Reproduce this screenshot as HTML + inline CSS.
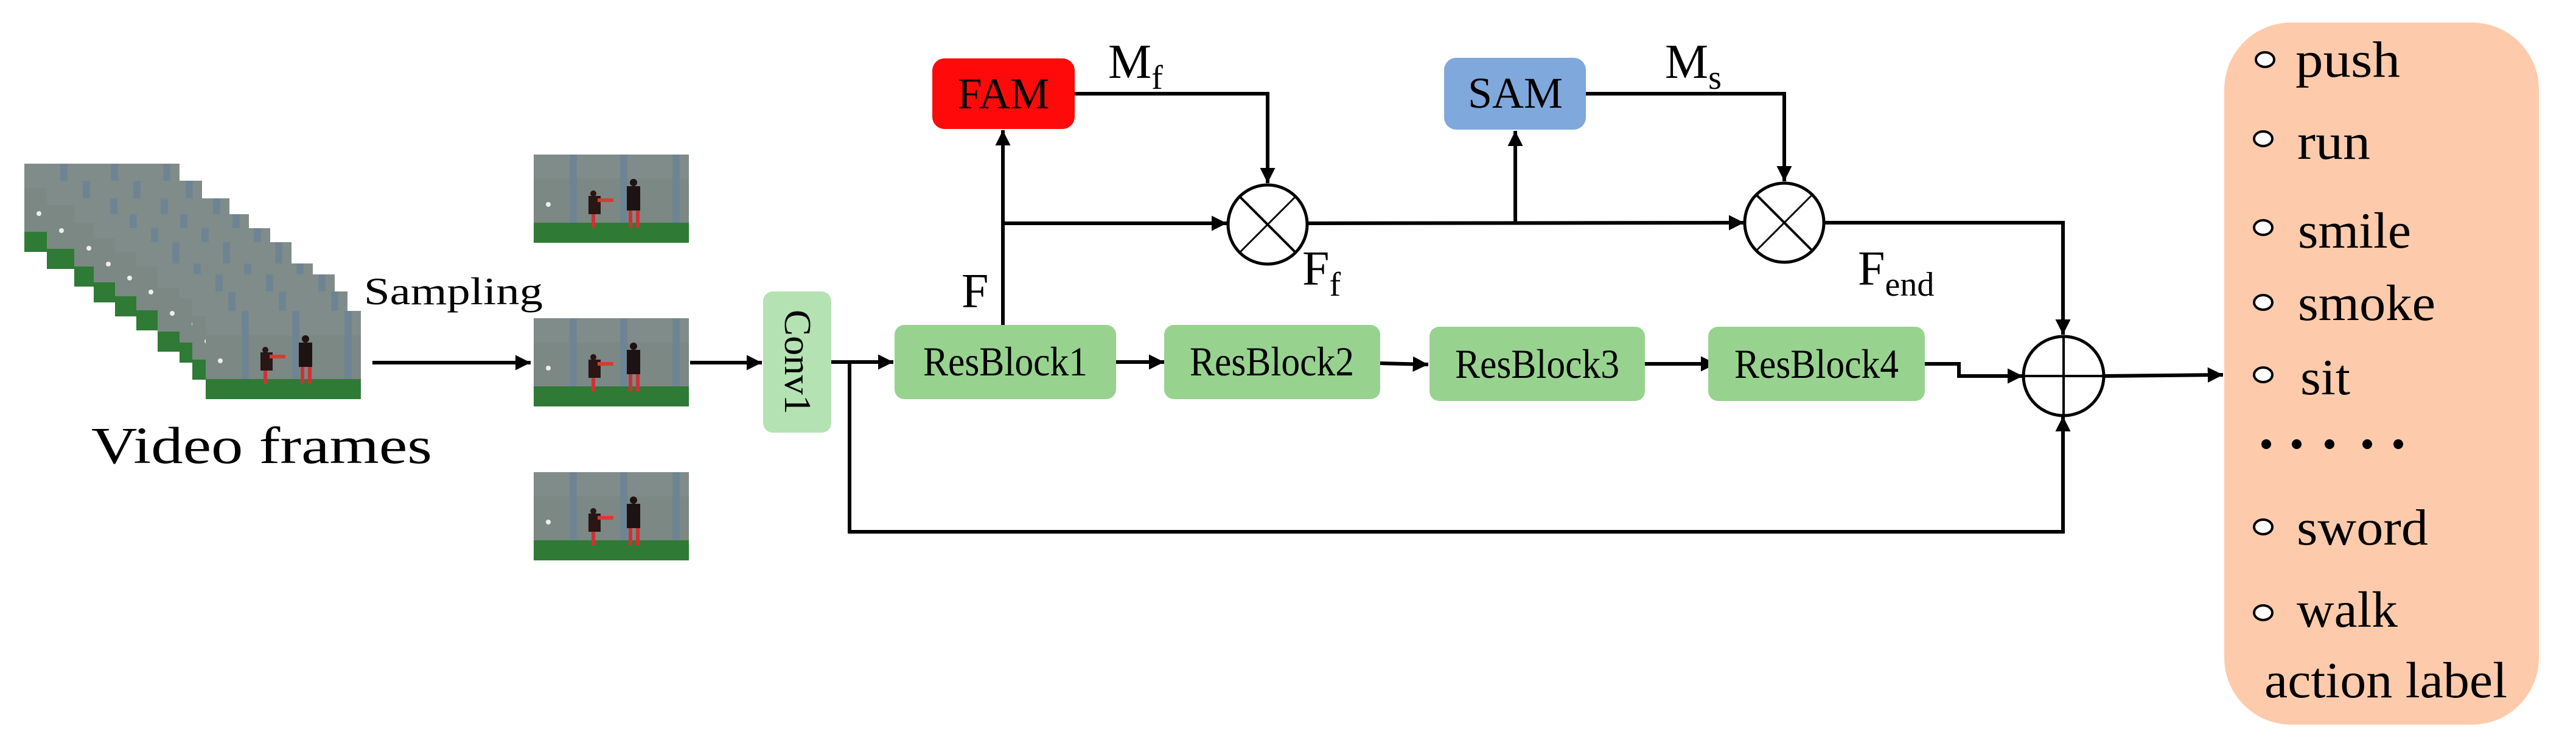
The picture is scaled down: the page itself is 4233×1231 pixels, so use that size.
<!DOCTYPE html>
<html><head><meta charset="utf-8"><style>
html,body{margin:0;padding:0;background:#fff;}
svg{display:block;}
svg text{font-family:'Liberation Serif','DejaVu Serif','Times New Roman',Times,serif !important;}
</style></head><body>
<svg width="4233" height="1231" viewBox="0 0 4233 1231" xmlns="http://www.w3.org/2000/svg">
<defs>
<symbol id="fr" viewBox="0 0 255 145">
<rect width="255" height="145" fill="#7b8884"/>
<rect y="0" width="255" height="40" fill="#808c89"/>
<rect x="59" width="12" height="112" fill="#6f8493"/>
<rect x="142" width="12" height="112" fill="#6f8493"/>
<rect x="228" width="12" height="112" fill="#6f8493"/>
<rect y="112" width="255" height="33" fill="#2f7a35"/>
<circle cx="24" cy="82" r="4" fill="#eee"/>
<rect x="90" y="68" width="20" height="30" fill="#2a1614"/>
<rect x="105" y="72" width="26" height="6" fill="#d83a32"/>
<circle cx="98" cy="64" r="5" fill="#2a1614"/>
<rect x="95" y="98" width="6" height="22" fill="#c33"/>
<rect x="153" y="52" width="22" height="40" fill="#1f1212"/>
<circle cx="164" cy="46" r="6" fill="#1f1212"/>
<rect x="156" y="92" width="6" height="28" fill="#c33"/>
<rect x="168" y="92" width="6" height="28" fill="#c33"/>
</symbol>
<marker id="ah" viewBox="0 0 10 10" refX="10" refY="5" markerWidth="4.2" markerHeight="4.2" markerUnits="strokeWidth" orient="auto">
<path d="M0,0 L10,5 L0,10 z" fill="#000"/>
</marker>
</defs>

<use href="#fr" x="40" y="269" width="255" height="145"/>
<use href="#fr" x="77" y="297" width="255" height="145"/>
<use href="#fr" x="122" y="326" width="255" height="145"/>
<use href="#fr" x="154" y="352" width="255" height="145"/>
<use href="#fr" x="189" y="375" width="255" height="145"/>
<use href="#fr" x="224" y="398" width="255" height="145"/>
<use href="#fr" x="259" y="433" width="255" height="145"/>
<use href="#fr" x="295" y="451" width="255" height="145"/>
<use href="#fr" x="316" y="479" width="255" height="145"/>
<use href="#fr" x="338" y="511" width="255" height="145"/>
<text x="150" y="761" font-size="86" textLength="560" lengthAdjust="spacingAndGlyphs">Video frames</text>
<text x="598" y="500" font-size="64" textLength="294" lengthAdjust="spacingAndGlyphs">Sampling</text>

<use href="#fr" x="877" y="254" width="255" height="145"/>
<use href="#fr" x="877" y="523" width="255" height="145"/>
<use href="#fr" x="877" y="776" width="255" height="145"/>

<g stroke="#000" stroke-width="6" fill="none">
<line x1="612" y1="596" x2="872" y2="596" marker-end="url(#ah)"/>
<line x1="1134" y1="596" x2="1252" y2="596" marker-end="url(#ah)"/>
<line x1="1366" y1="595" x2="1468" y2="595" marker-end="url(#ah)"/>
<polyline points="1396,595 1396,874 3390,874 3390,684" marker-end="url(#ah)"/>
<line x1="1834" y1="595" x2="1913" y2="595" marker-end="url(#ah)"/>
<line x1="2268" y1="597" x2="2347" y2="599" marker-end="url(#ah)"/>
<line x1="2702" y1="598" x2="2820" y2="598" marker-end="url(#ah)"/>
<polyline points="3163,598 3219,598 3219,618 3324,618" marker-end="url(#ah)"/>
<line x1="1648" y1="534" x2="1648" y2="214" marker-end="url(#ah)"/>
<line x1="1648" y1="367" x2="2016" y2="367" marker-end="url(#ah)"/>
<polyline points="1766,154 2083,154 2083,301" marker-end="url(#ah)"/>
<line x1="2150" y1="367" x2="2866" y2="366" marker-end="url(#ah)"/>
<line x1="2490" y1="367" x2="2490" y2="215" marker-end="url(#ah)"/>
<polyline points="2606,154 2932,154 2932,298" marker-end="url(#ah)"/>
<polyline points="2998,366 3390,366 3390,550" marker-end="url(#ah)"/>
<line x1="3456" y1="618" x2="3653" y2="616" marker-end="url(#ah)"/>
</g>

<rect x="1254" y="479" width="112" height="232" rx="16" fill="#b5e2b2"/>
<text transform="translate(1310,595) rotate(90)" text-anchor="middle" dominant-baseline="central" font-size="62" textLength="172" lengthAdjust="spacingAndGlyphs">Conv1</text>

<rect x="1470" y="534" width="364" height="122" rx="16" fill="#97d38f"/>
<text x="1652" y="617" text-anchor="middle" font-size="68" textLength="270" lengthAdjust="spacingAndGlyphs">ResBlock1</text>
<rect x="1913" y="534" width="355" height="122" rx="16" fill="#97d38f"/>
<text x="2090" y="617" text-anchor="middle" font-size="68" textLength="270" lengthAdjust="spacingAndGlyphs">ResBlock2</text>
<rect x="2349" y="537" width="354" height="122" rx="16" fill="#97d38f"/>
<text x="2526" y="621" text-anchor="middle" font-size="68" textLength="270" lengthAdjust="spacingAndGlyphs">ResBlock3</text>
<rect x="2807" y="537" width="356" height="122" rx="16" fill="#97d38f"/>
<text x="2985" y="621" text-anchor="middle" font-size="68" textLength="270" lengthAdjust="spacingAndGlyphs">ResBlock4</text>

<rect x="1532" y="96" width="234" height="116" rx="20" fill="#fe0a0a"/>
<text x="1649" y="178" text-anchor="middle" font-size="72">FAM</text>
<rect x="2373" y="95" width="233" height="118" rx="20" fill="#7fa8dc"/>
<text x="2490" y="177" text-anchor="middle" font-size="72">SAM</text>

<text x="1580" y="505" font-size="80">F</text>
<text x="1821" y="128" font-size="80">M<tspan font-size="56" dy="18">f</tspan></text>
<text x="2736" y="128" font-size="80">M<tspan font-size="56" dy="18">s</tspan></text>
<text x="2140" y="468" font-size="80">F<tspan font-size="56" dy="18">f</tspan></text>
<text x="3053" y="468" font-size="80">F<tspan font-size="56" dy="18">end</tspan></text>

<g stroke="#000" fill="#fff">
<circle cx="2083" cy="369" r="65" stroke-width="5"/>
<line x1="2037" y1="323" x2="2129" y2="415" stroke-width="4"/>
<line x1="2129" y1="323" x2="2037" y2="415" stroke-width="3"/>
<circle cx="2932" cy="366" r="65" stroke-width="5"/>
<line x1="2886" y1="320" x2="2978" y2="412" stroke-width="4"/>
<line x1="2978" y1="320" x2="2886" y2="412" stroke-width="3"/>
<ellipse cx="3391" cy="618" rx="66" ry="65" stroke-width="5"/>
<line x1="3325" y1="618" x2="3457" y2="618" stroke-width="4"/>
<line x1="3391" y1="553" x2="3391" y2="683" stroke-width="4"/>
</g>

<rect x="3655" y="37" width="517" height="1154" rx="110" fill="#fdcbab"/>
<g fill="#fff" stroke="#000" stroke-width="4">
<ellipse cx="3722" cy="98" rx="15" ry="12"/>
<ellipse cx="3719" cy="228" rx="15" ry="12"/>
<ellipse cx="3719" cy="374" rx="15" ry="12"/>
<ellipse cx="3719" cy="497" rx="15" ry="12"/>
<ellipse cx="3719" cy="616" rx="15" ry="12"/>
<ellipse cx="3719" cy="866" rx="15" ry="12"/>
<ellipse cx="3719" cy="1007" rx="15" ry="12"/>
</g>
<g fill="#000">
<circle cx="3724" cy="730" r="8"/><circle cx="3774" cy="730" r="8"/><circle cx="3828" cy="730" r="8"/><circle cx="3890" cy="730" r="8"/><circle cx="3941" cy="730" r="8"/>
</g>
<g font-size="84">
<text x="3772" y="126" textLength="172" lengthAdjust="spacingAndGlyphs">push</text>
<text x="3775" y="261" textLength="120" lengthAdjust="spacingAndGlyphs">run</text>
<text x="3776" y="407" textLength="186" lengthAdjust="spacingAndGlyphs">smile</text>
<text x="3776" y="526" textLength="226" lengthAdjust="spacingAndGlyphs">smoke</text>
<text x="3780" y="648" textLength="82" lengthAdjust="spacingAndGlyphs">sit</text>
<text x="3774" y="895" textLength="216" lengthAdjust="spacingAndGlyphs">sword</text>
<text x="3774" y="1030" textLength="166" lengthAdjust="spacingAndGlyphs">walk</text>
<text x="3721" y="1146" textLength="399" lengthAdjust="spacingAndGlyphs">action label</text>
</g>
</svg>
</body></html>
